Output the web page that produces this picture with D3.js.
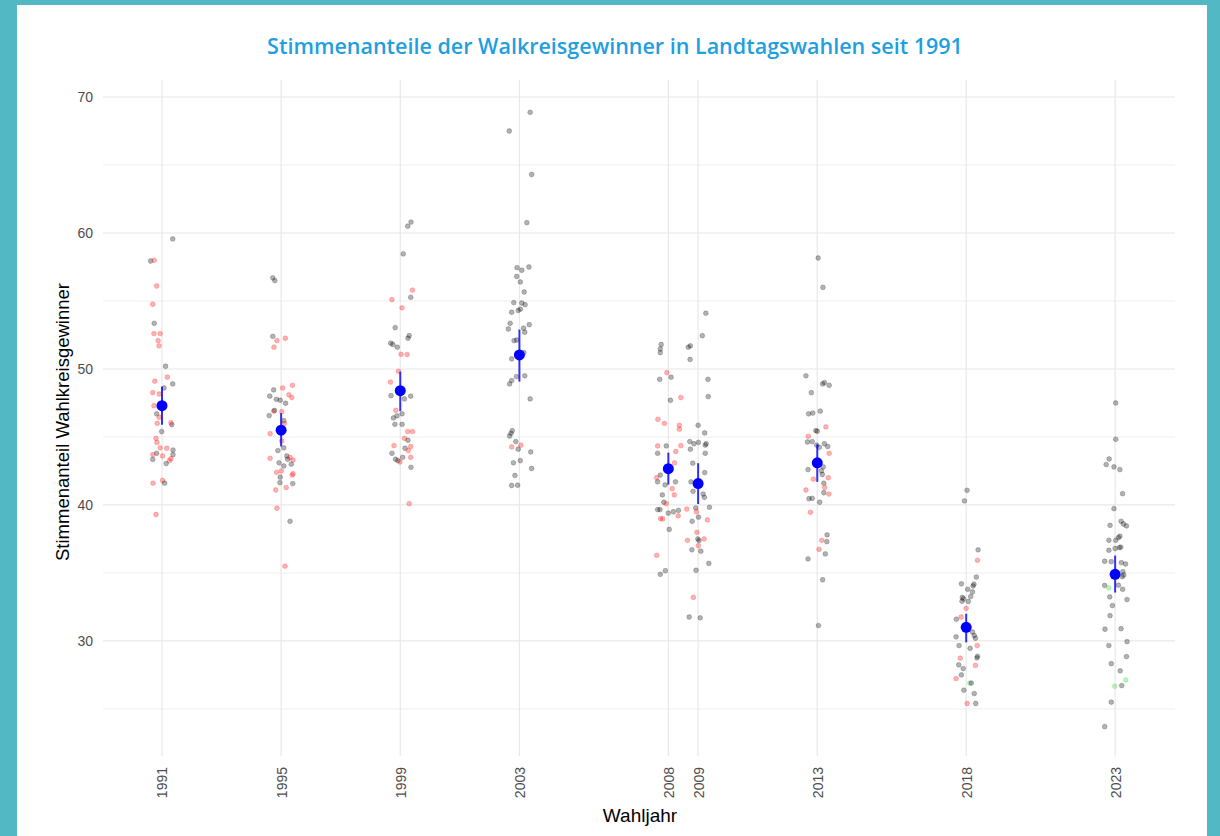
<!DOCTYPE html>
<html>
<head>
<meta charset="utf-8">
<script src="https://cdn.jsdelivr.net/npm/d3@7"></script>
<style>
  body { margin: 0; background: #52b8c3; }
  #panel { position: absolute; left: 17px; top: 5px; width: 1190px; height: 831px; background: #fff; }
  svg { position: absolute; left: 0; top: 0; }
</style>
</head>
<body>
<div id="panel"></div>
<svg id="chart" width="1220" height="836"></svg>
<script>
// Wahljahre (x axis breaks)
var years = [1991, 1995, 1999, 2003, 2008, 2009, 2013, 2018, 2023];

// Mittelwert und Fehlerbalken je Wahljahr
var means = [47.3, 45.5, 48.4, 51.03, 42.67, 41.57, 43.1, 31.0, 34.9];
var lower = [45.9, 44.3, 46.9, 49.07, 41.5, 40.07, 41.7, 29.9, 33.56];
var upper = [48.7, 46.75, 49.8, 52.9, 43.85, 43.07, 44.46, 32.0, 36.28];

var yTicks = [30, 40, 50, 60, 70];
var yMinor = [25, 35, 45, 55, 65];

// single winners: [jitter in years, vote share, party]  c = CDU, s = SPD, g = Gruene
var w1991 = [[.36,59.56,"c"],[-.38,57.94,"c"],[-.26,57.99,"s"],[-.18,56.1,"s"],[-.31,54.76,"s"],[-.26,53.36,"c"],
  [-.27,52.6,"s"],[-.06,52.6,"s"],[-.13,52.08,"s"],[-.1,51.7,"s"],[.12,50.2,"c"],[.18,49.4,"s"],[-.24,49.1,"s"],
  [.36,48.9,"c"],[.07,48.6,"c"],[-.31,48.26,"s"],[-.09,48.16,"s"],[-.27,47.3,"s"],[-.18,46.7,"c"],[-.09,46.45,"s"],
  [-.16,46.0,"s"],[.33,45.9,"c"],[.30,46.05,"s"],[-.01,45.4,"c"],[-.2,44.9,"s"],[-.17,44.6,"s"],[-.06,44.2,"s"],
  [.16,44.17,"s"],[.37,44.04,"c"],[.37,43.7,"c"],[-.18,43.8,"c"],[-.31,43.7,"s"],[-.31,43.35,"c"],[.02,43.6,"s"],
  [.3,43.4,"s"],[.25,43.26,"s"],[.14,43.04,"c"],[.02,41.8,"s"],[.09,41.6,"c"],[-.3,41.6,"s"],[-.2,39.3,"s"]];

var w1995 = [[-.28,56.7,"c"],[-.21,56.5,"c"],[-.28,52.4,"c"],[-.14,52.08,"s"],[.14,52.26,"s"],[-.24,51.6,"s"],
  [-.25,48.46,"c"],[.05,48.6,"s"],[.38,48.8,"s"],[-.38,48.0,"c"],[-.16,47.77,"c"],[-.03,47.7,"c"],[.15,47.48,"c"],
  [.26,48.1,"s"],[.36,47.9,"s"],[-.25,46.9,"s"],[-.22,46.95,"c"],[.02,46.86,"s"],[-.4,46.57,"c"],[.09,46.2,"c"],
  [.11,46.0,"s"],[-.37,45.24,"s"],[.02,44.7,"s"],[.09,44.2,"c"],[-.11,44.0,"c"],[-.37,43.43,"s"],[.19,43.6,"c"],
  [.22,43.36,"c"],[.3,43.5,"s"],[.4,43.3,"s"],[-.07,43.1,"c"],[.09,42.87,"c"],[.34,43.0,"c"],[-.15,42.4,"s"],
  [.01,42.5,"s"],[-.03,42.04,"c"],[.37,42.2,"s"],[.4,42.3,"s"],[-.04,41.64,"c"],[.39,41.57,"c"],[.17,41.28,"s"],
  [-.18,41.1,"s"],[-.14,39.76,"s"],[.3,38.8,"c"],[.13,35.5,"s"]];

var w1999 = [[.25,60.5,"c"],[.36,60.8,"c"],[.1,58.46,"c"],[.41,55.8,"s"],[.35,55.27,"c"],[-.28,55.1,"s"],[.06,54.5,"s"],
  [-.17,53.04,"c"],[.3,52.45,"c"],[.26,52.26,"c"],[-.32,51.9,"c"],[-.25,51.8,"c"],[-.1,51.6,"c"],[.03,51.08,"s"],
  [.23,51.06,"s"],[-.06,49.83,"s"],[-.33,49.04,"s"],[-.31,48.04,"c"],[.14,47.8,"c"],[.35,48.0,"c"],[-.15,46.96,"s"],
  [.06,46.7,"c"],[-.23,46.4,"c"],[-.11,46.55,"c"],[-.18,45.93,"c"],[.06,45.93,"c"],[.25,45.4,"s"],[.41,45.4,"s"],
  [.14,44.9,"s"],[.26,44.76,"c"],[-.21,44.37,"s"],[.16,44.17,"c"],[.35,44.3,"s"],[.27,44.0,"s"],[-.28,43.8,"c"],
  [.35,43.5,"s"],[-.16,43.36,"c"],[-.08,43.26,"c"],[-.01,43.16,"s"],[.08,43.5,"c"],[.36,42.77,"c"],[.3,40.1,"s"]];

var w2003 = [[.36,68.87,"c"],[-.34,67.5,"c"],[.41,64.3,"c"],[.25,60.76,"c"],[-.08,57.45,"c"],[.08,57.26,"c"],
  [.32,57.5,"c"],[-.09,56.8,"c"],[.03,56.4,"c"],[.16,55.66,"c"],[-.19,54.88,"c"],[.08,54.85,"c"],[.19,54.73,"c"],
  [-.04,54.3,"c"],[.03,54.4,"c"],[-.26,54.17,"c"],[-.31,53.36,"c"],[.14,53.0,"c"],[-.37,52.94,"c"],[.33,53.26,"c"],
  [.18,52.7,"c"],[-.18,52.08,"c"],[-.09,52.13,"c"],[.15,51.2,"c"],[-.26,50.74,"c"],[-.1,49.44,"c"],[.18,49.5,"c"],
  [-.26,49.15,"c"],[-.33,48.9,"c"],[.36,47.8,"c"],[-.24,45.46,"c"],[-.28,45.27,"c"],[-.33,45.07,"c"],[-.12,44.66,"c"],
  [-.26,44.27,"s"],[.05,44.4,"s"],[-.04,44.1,"c"],[.38,43.9,"c"],[-.2,43.1,"c"],[.03,43.26,"c"],[.41,42.68,"c"],
  [-.15,42.17,"c"],[-.26,41.43,"c"],[-.06,41.45,"c"]];

var w2008 = [[-.24,51.8,"c"],[-.27,51.47,"c"],[-.27,51.2,"c"],[-.05,49.73,"s"],[-.29,49.24,"c"],[.09,49.4,"c"],
  [.07,47.7,"c"],[.42,47.9,"s"],[-.35,46.3,"s"],[-.13,46.0,"s"],[.37,45.86,"s"],[.37,45.57,"s"],[-.36,44.34,"s"],
  [-.07,44.34,"c"],[.42,44.36,"s"],[-.36,43.8,"c"],[.25,43.93,"s"],[.21,43.1,"s"],[-.27,42.2,"c"],[-.39,42.0,"s"],
  [-.36,41.7,"c"],[-.11,41.47,"c"],[.24,41.7,"c"],[.13,41.2,"s"],[.2,40.74,"s"],[-.2,40.74,"c"],[-.15,40.2,"c"],
  [-.07,40.1,"s"],[-.36,39.66,"c"],[-.28,39.66,"c"],[0,39.4,"c"],[-.26,39.0,"s"],[-.19,38.97,"s"],[.17,39.5,"c"],
  [.34,39.6,"c"],[.33,39.2,"s"],[.03,38.2,"c"],[-.39,36.3,"s"],[-.27,34.9,"c"],[-.1,35.17,"c"]];

var w2009 = [[.26,54.1,"c"],[.14,52.45,"c"],[-.33,51.6,"c"],[-.26,51.7,"c"],[-.27,50.7,"c"],[.33,49.24,"c"],
  [.34,47.97,"c"],[0,45.86,"c"],[.22,45.3,"c"],[-.28,44.66,"c"],[-.14,44.5,"c"],[.01,44.6,"c"],[-.26,44.1,"c"],
  [.27,44.5,"c"],[.24,44.4,"c"],[.24,43.8,"c"],[-.18,43.07,"c"],[.22,42.38,"c"],[-.17,41.0,"c"],[-.24,41.7,"c"],
  [.17,40.8,"c"],[.21,40.56,"c"],[.38,39.83,"c"],[-.08,39.78,"c"],[-.38,39.7,"s"],[-.06,39.5,"s"],[.01,39.1,"c"],
  [.31,38.9,"s"],[-.2,38.8,"c"],[-.04,37.99,"s"],[-.36,37.4,"s"],[-.01,37.5,"c"],[.03,37.38,"c"],[.2,37.5,"s"],
  [.01,37.0,"s"],[-.21,36.7,"c"],[.09,36.6,"c"],[.36,35.7,"c"],[-.07,35.2,"c"],[-.16,33.2,"s"],[-.3,31.76,"c"],
  [.07,31.7,"c"]];

var w2013 = [[.03,58.16,"c"],[.19,56.0,"c"],[-.38,49.5,"c"],[.24,49.0,"c"],[.4,48.8,"c"],[.18,48.9,"c"],[-.2,48.26,"c"],
  [-.29,46.7,"c"],[-.15,46.76,"c"],[.1,46.9,"c"],[.29,45.74,"s"],[-.05,45.47,"c"],[0,45.42,"c"],[-.3,45.05,"s"],
  [-.33,44.63,"c"],[-.17,44.66,"c"],[-.02,44.4,"c"],[.07,44.24,"c"],[.24,44.5,"c"],[.35,44.3,"c"],[.4,43.8,"s"],
  [-.31,42.6,"c"],[.14,42.5,"c"],[.2,42.8,"c"],[.17,42.24,"c"],[-.13,41.9,"s"],[.37,42.0,"s"],[.22,41.6,"c"],
  [.25,41.28,"s"],[-.38,41.1,"s"],[.39,40.8,"s"],[.22,40.9,"c"],[-.28,40.46,"c"],[-.17,40.49,"c"],[.08,40.2,"c"],
  [-.23,39.46,"s"],[.33,37.8,"c"],[.32,37.3,"c"],[.15,37.4,"s"],[.06,36.74,"s"],[.27,36.4,"c"],[-.31,36.03,"c"],
  [.18,34.5,"c"],[.04,31.13,"c"]];

var w2018 = [[.03,41.08,"c"],[-.06,40.3,"c"],[.4,36.7,"c"],[.38,35.93,"s"],[.34,34.7,"c"],[-.16,34.2,"c"],
  [.26,34.17,"c"],[.23,34.04,"c"],[.05,33.8,"c"],[.21,33.6,"c"],[-.13,33.2,"c"],[-.09,33.1,"c"],[.15,33.26,"c"],
  [.07,32.9,"c"],[-.14,32.92,"c"],[0,32.4,"s"],[-.17,31.76,"s"],[-.33,31.6,"c"],[.21,30.66,"c"],[.27,30.4,"c"],
  [.31,30.2,"c"],[-.34,30.3,"c"],[.37,29.66,"s"],[-.24,29.66,"c"],[.13,29.46,"c"],[.38,28.87,"c"],[.36,28.75,"c"],
  [-.2,28.73,"s"],[.31,28.2,"s"],[-.25,28.24,"c"],[-.1,27.97,"c"],[-.16,27.5,"c"],[-.34,27.23,"s"],[.12,26.9,"g"],
  [.17,26.9,"c"],[-.08,26.38,"c"],[.27,26.13,"c"],[.03,25.4,"s"],[.32,25.4,"c"]];

var w2023 = [[.02,47.5,"c"],[.02,44.83,"c"],[-.2,43.38,"c"],[-.3,42.97,"c"],[-.04,42.8,"c"],[.16,42.6,"c"],
  [.25,40.83,"c"],[-.04,39.73,"c"],[-.17,38.5,"c"],[.2,38.8,"c"],[.28,38.6,"c"],[.38,38.46,"c"],[.11,37.6,"c"],
  [.16,37.7,"c"],[-.21,37.4,"c"],[.02,37.4,"c"],[.14,36.86,"c"],[0,36.8,"c"],[.19,36.9,"c"],[-.21,36.67,"c"],
  [-.35,35.86,"c"],[-.13,35.83,"c"],[.21,35.76,"c"],[.35,35.66,"c"],[.26,35.1,"c"],[.29,34.85,"c"],[.24,34.73,"c"],
  [-.35,34.08,"c"],[-.21,33.9,"g"],[.11,34.1,"c"],[.25,33.8,"c"],[-.18,33.24,"c"],[.4,33.04,"c"],[-.09,32.6,"c"],
  [-.17,31.86,"c"],[-.34,30.86,"c"],[.2,30.9,"c"],[.4,29.95,"c"],[-.21,29.66,"c"],[.38,28.85,"c"],[-.13,28.33,"c"],
  [.17,27.8,"c"],[.36,27.13,"g"],[-.01,26.67,"g"],[.22,26.72,"c"],[-.13,25.5,"c"],[-.35,23.7,"c"]];

var winners = [w1991, w1995, w1999, w2003, w2008, w2009, w2013, w2018, w2023];
var partyColor = { c: "black", s: "red", g: "limegreen" };

// plot area
var plot = { left: 103, right: 1175, top: 80, bottom: 756 };

var svg = d3.select("#chart");

var x = d3.scaleLinear().domain([1989.02, 2025.01]).range([plot.left, plot.right]);
var y = d3.scaleLinear().domain([21.54, 71.25]).range([plot.bottom, plot.top]);

// gridlines
var grid = svg.append("g");
grid.selectAll(".hminor").data(yMinor).enter().append("line")
  .attr("x1", plot.left).attr("x2", plot.right)
  .attr("y1", d => y(d)).attr("y2", d => y(d))
  .attr("stroke", "#eeeeee").attr("stroke-width", 1);
grid.selectAll(".hmajor").data(yTicks).enter().append("line")
  .attr("x1", plot.left).attr("x2", plot.right)
  .attr("y1", d => y(d)).attr("y2", d => y(d))
  .attr("stroke", "#e8e8e8").attr("stroke-width", 1.2);
grid.selectAll(".vmajor").data(years).enter().append("line")
  .attr("x1", d => x(d)).attr("x2", d => x(d))
  .attr("y1", plot.top).attr("y2", plot.bottom)
  .attr("stroke", "#e8e8e8").attr("stroke-width", 1.2);

// axes (ticks only as text, like ggplot theme_minimal)
var leftAxis = d3.axisLeft(y).tickValues(yTicks).tickSize(0).tickPadding(10);
var yAxis = svg.append("g").attr("transform", `translate(${plot.left},0)`).call(leftAxis);
yAxis.select(".domain").remove();
yAxis.selectAll("text").attr("font-family", "Liberation Sans, Arial, sans-serif")
  .attr("font-size", "14px").attr("fill", "#4d4d4d");

var bottomAxis = d3.axisBottom(x).tickValues(years).tickFormat(d3.format("d")).tickSize(0);
var xAxis = svg.append("g").attr("transform", `translate(0,${plot.bottom})`).call(bottomAxis);
xAxis.select(".domain").remove();
xAxis.selectAll("text")
  .attr("font-family", "Liberation Sans, Arial, sans-serif")
  .attr("font-size", "14px").attr("fill", "#4d4d4d")
  .attr("transform", "rotate(-90)")
  .attr("text-anchor", "end")
  .attr("x", -11).attr("y", 0).attr("dy", "0.35em");

// jittered points
winners.forEach(function(list, i) {
  svg.append("g").selectAll("circle").data(list).enter().append("circle")
    .attr("cx", d => x(years[i] + d[0]))
    .attr("cy", d => y(d[1]))
    .attr("r", 2.4)
    .attr("fill", d => partyColor[d[2]])
    .attr("fill-opacity", 0.3)
    .attr("stroke", d => partyColor[d[2]])
    .attr("stroke-opacity", 0.25)
    .attr("stroke-width", 0.8);
});

// mean + error bars
var summary = years.map((yr, i) => ({ year: yr, mean: means[i], lo: lower[i], hi: upper[i] }));
svg.append("g").selectAll("line").data(summary).enter().append("line")
  .attr("x1", d => x(d.year)).attr("x2", d => x(d.year))
  .attr("y1", d => y(d.lo)).attr("y2", d => y(d.hi))
  .attr("stroke", "blue").attr("stroke-opacity", 0.8).attr("stroke-width", 2);
svg.append("g").selectAll("circle").data(summary).enter().append("circle")
  .attr("cx", d => x(d.year)).attr("cy", d => y(d.mean))
  .attr("r", 5.5).attr("fill", "blue");

// titles
svg.append("text")
  .attr("x", 615).attr("y", 54)
  .attr("text-anchor", "middle")
  .attr("font-family", "Open Sans, sans-serif")
  .attr("font-size", "21.5px").attr("font-weight", 600)
  .attr("fill", "#1f9fe0")
  .text("Stimmenanteile der Walkreisgewinner in Landtagswahlen seit 1991");

svg.append("text")
  .attr("x", 640).attr("y", 822)
  .attr("text-anchor", "middle")
  .attr("font-family", "Liberation Sans, Arial, sans-serif")
  .attr("font-size", "19px").attr("fill", "black")
  .text("Wahljahr");

svg.append("text")
  .attr("transform", "rotate(-90)")
  .attr("x", -422).attr("y", 69)
  .attr("text-anchor", "middle")
  .attr("font-family", "Liberation Sans, Arial, sans-serif")
  .attr("font-size", "18.5px").attr("fill", "black")
  .text("Stimmenanteil Wahlkreisgewinner");
</script>
</body>
</html>
